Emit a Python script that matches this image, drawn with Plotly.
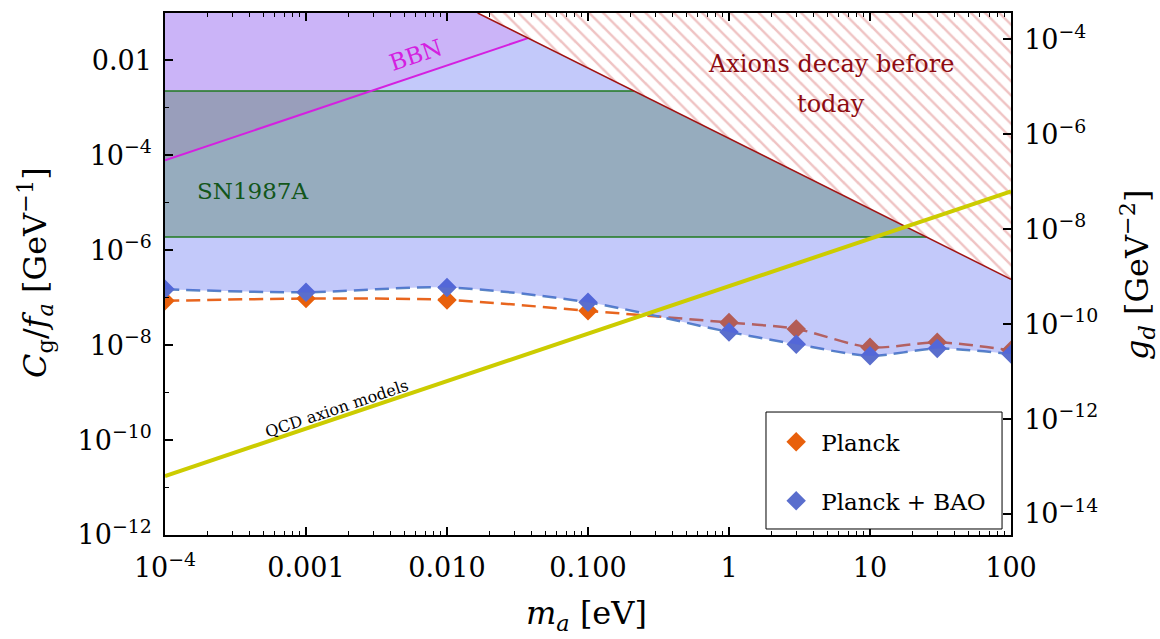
import math
import plotly.graph_objects as go

# ---------------- data ----------------
m_a = [1e-4, 1e-3, 1e-2, 0.1, 1, 3, 10, 30, 100]
planck = [8.6e-8, 9.6e-8, 9.0e-8, 5.3e-8, 3.0e-8, 2.2e-8, 9.0e-9, 1.15e-8, 7.8e-9]
planck_bao = [1.5e-7, 1.3e-7, 1.65e-7, 8.0e-8, 1.9e-8, 1.05e-8, 6.0e-9, 8.5e-9, 6.5e-9]

qcd_x = [1e-4, 100]
qcd_y = [1.75e-11, 1.75e-5]
bbn_x = [1e-4, 1e-1]
bbn_y = [7.85e-5, 7.85e-2]
decay_x = [0.0165, 100]
decay_y = [0.1, 2.45e-7]
sn_lo = 1.9e-6
sn_hi = 2.26e-3

x_lim = [1e-4, 100]
y_lim = [1e-12, 0.1]
y2_lim_log = [-14.442, -3.442]

x_ticks = [1e-4, 1e-3, 1e-2, 0.1, 1, 10, 100]
x_ticktext = ["10<sup>−4</sup>", "0.001", "0.010", "0.100", "1", "10", "100"]
y_ticks = [1e-12, 1e-10, 1e-8, 1e-6, 1e-4, 1e-2]
y_ticktext = ["10<sup>−12</sup>", "10<sup>−10</sup>", "10<sup>−8</sup>", "10<sup>−6</sup>",
              "10<sup>−4</sup>", "0.01"]
y2_ticks = [1e-14, 1e-12, 1e-10, 1e-8, 1e-6, 1e-4]
y2_ticktext = ["10<sup>−14</sup>", "10<sup>−12</sup>", "10<sup>−10</sup>", "10<sup>−8</sup>",
               "10<sup>−6</sup>", "10<sup>−4</sup>"]

# ---------------- helpers (log-log straight lines) ----------------
def line(xs, ys):
    lx0, lx1 = math.log10(xs[0]), math.log10(xs[1])
    ly0, ly1 = math.log10(ys[0]), math.log10(ys[1])
    s = (ly1 - ly0) / (lx1 - lx0)
    return (s, ly0 - s * lx0)

def hline(y):
    return (0.0, math.log10(y))

def at(l, x):
    return 10 ** (l[0] * math.log10(x) + l[1])

def cross(l1, l2):
    return 10 ** ((l2[1] - l1[1]) / (l1[0] - l2[0]))

L_bbn = line(bbn_x, bbn_y)
L_dec = line(decay_x, decay_y)
xmin, xmax = x_lim
ymax = y_lim[1]
x_top = cross(L_dec, hline(ymax))
x_bd = cross(L_bbn, L_dec)
x_snhi = cross(hline(sn_hi), L_dec)
x_snlo = cross(hline(sn_lo), L_dec)
x_bs = cross(L_bbn, hline(sn_hi))

FONT = "DejaVu Serif"
C_OR = "#e8600c"
C_BL = "#5a6ecd"

fig = go.Figure()

# dashed data lines
fig.add_trace(go.Scatter(x=m_a, y=planck, mode="lines", showlegend=False, hoverinfo="skip",
                         line=dict(color="#e8651e", width=2.5, dash="14px,7px", shape="spline", smoothing=0.8)))
fig.add_trace(go.Scatter(x=m_a, y=planck_bao, mode="lines", showlegend=False, hoverinfo="skip",
                         line=dict(color="#5a86c4", width=2.5, dash="14px,7px", shape="spline", smoothing=0.8)))
# markers
fig.add_trace(go.Scatter(x=m_a, y=planck, mode="markers", name="Planck", legendgroup="a",
                         marker=dict(symbol="diamond", size=15, color=C_OR)))
fig.add_trace(go.Scatter(x=m_a, y=planck_bao, mode="markers", name="Planck + BAO", legendgroup="b",
                         marker=dict(symbol="diamond", size=15, color=C_BL)))

# blue excluded region (semi-transparent overlay above the Planck+BAO curve)
fig.add_trace(go.Scatter(x=[xmin, xmax], y=[ymax, ymax], mode="lines", showlegend=False,
                         hoverinfo="skip", line=dict(width=0, color="rgba(0,0,0,0)")))
fig.add_trace(go.Scatter(x=m_a, y=planck_bao, mode="lines", fill="tonexty", showlegend=False,
                         hoverinfo="skip", fillcolor="rgba(70,90,240,0.324)",
                         line=dict(width=0, color="rgba(0,0,0,0)", shape="spline", smoothing=0.8)))

# BBN region
fig.add_trace(go.Scatter(x=[xmin, x_bd, x_top, xmin], y=[at(L_bbn, xmin), at(L_bbn, x_bd), ymax, ymax],
                         mode="lines", fill="toself", fillcolor="#cbb4f8", line=dict(width=0),
                         showlegend=False, hoverinfo="skip"))
# SN1987A band
fig.add_trace(go.Scatter(x=[xmin, x_snlo, x_snhi, xmin], y=[sn_lo, sn_lo, sn_hi, sn_hi],
                         mode="lines", fill="toself", fillcolor="#96acbe", line=dict(width=0),
                         showlegend=False, hoverinfo="skip"))
# overlap BBN & SN
fig.add_trace(go.Scatter(x=[xmin, x_bs, xmin], y=[at(L_bbn, xmin), sn_hi, sn_hi],
                         mode="lines", fill="toself", fillcolor="#999ebb", line=dict(width=0),
                         showlegend=False, hoverinfo="skip"))
# hatched decay region
fig.add_trace(go.Scatter(x=[x_top, xmax, xmax], y=[ymax, at(L_dec, xmax), ymax],
                         mode="lines", fill="toself", fillcolor="white",
                         fillpattern=dict(shape="\\", fgcolor="#e08888", bgcolor="white", size=10, solidity=0.25),
                         line=dict(width=0), showlegend=False, hoverinfo="skip"))

# boundary lines
fig.add_trace(go.Scatter(x=[xmin, x_snhi], y=[sn_hi, sn_hi], mode="lines", showlegend=False,
                         hoverinfo="skip", line=dict(color="#1f7a1f", width=1.5)))
fig.add_trace(go.Scatter(x=[xmin, x_snlo], y=[sn_lo, sn_lo], mode="lines", showlegend=False,
                         hoverinfo="skip", line=dict(color="#1f7a1f", width=1.5)))
fig.add_trace(go.Scatter(x=[xmin, x_bd], y=[at(L_bbn, xmin), at(L_bbn, x_bd)], mode="lines",
                         showlegend=False, hoverinfo="skip", line=dict(color="#d420e0", width=2)))
fig.add_trace(go.Scatter(x=[x_top, xmax], y=[ymax, at(L_dec, xmax)], mode="lines",
                         showlegend=False, hoverinfo="skip", line=dict(color="#a01414", width=1.5)))
# QCD axion line
fig.add_trace(go.Scatter(x=qcd_x, y=qcd_y, mode="lines", showlegend=False, hoverinfo="skip",
                         line=dict(color="#cccc00", width=4)))
# dummy for right axis
fig.add_trace(go.Scatter(x=[1e-2], y=[1e-10], yaxis="y2", mode="markers", showlegend=False,
                         hoverinfo="skip", marker=dict(opacity=0)))

def minor_x():
    v = []
    for e in range(-4, 2):
        for k in range(2, 10):
            v.append(k * 10 ** e)
    return v

tickfont = dict(family=FONT, size=27, color="black")

fig.update_layout(
    width=1160, height=639,
    margin=dict(l=165, r=149, t=13, b=104),
    paper_bgcolor="white", plot_bgcolor="white",
    font=dict(family=FONT, color="black"),
    xaxis=dict(type="log", range=[math.log10(x_lim[0]), math.log10(x_lim[1])],
               tickvals=x_ticks, ticktext=x_ticktext, ticks="inside", ticklen=8, tickwidth=1.5,
               tickcolor="black", showline=True, linecolor="black", linewidth=1.5, mirror="ticks",
               showgrid=False, zeroline=False, tickfont=tickfont, ticklabelstandoff=8,
               minor=dict(tickvals=minor_x(), ticks="inside", ticklen=4, tickwidth=1, tickcolor="black",
                          showgrid=False)),
    yaxis=dict(type="log", range=[math.log10(y_lim[0]), math.log10(y_lim[1])],
               tickvals=y_ticks, ticktext=y_ticktext, ticks="inside", ticklen=8, tickwidth=1.5,
               tickcolor="black", showline=True, linecolor="black", linewidth=1.5,
               showgrid=False, zeroline=False, tickfont=tickfont, ticklabelstandoff=6,
               minor=dict(tickvals=[1e-11, 1e-9, 1e-7, 1e-5, 1e-3], ticks="inside", ticklen=4,
                          tickwidth=1, tickcolor="black", showgrid=False)),
    yaxis2=dict(type="log", overlaying="y", side="right", anchor="x", range=y2_lim_log,
                tickvals=y2_ticks, ticktext=y2_ticktext, ticks="inside", ticklen=8, tickwidth=1.5,
                tickcolor="black", showline=True, linecolor="black", linewidth=1.5,
                showgrid=False, zeroline=False, tickfont=tickfont, ticklabelstandoff=6),
    legend=dict(x=0.7165, y=0.2197, xanchor="left", yanchor="top", bgcolor="rgba(0,0,0,0)",
                borderwidth=0, font=dict(family=FONT, size=23, color="black"), tracegroupgap=26,
                itemwidth=40),
    showlegend=True,
    shapes=[dict(type="rect", xref="paper", yref="paper", x0=0.7104, x1=0.9894, y0=0.0115, y1=0.2356,
                 fillcolor="white", line=dict(color="black", width=1), layer="above")],
)

ann = [
    dict(text="BBN", x=-2.22, y=-1.895, textangle=-18.6, font=dict(family=FONT, size=23, color="#d420e0")),
    dict(text="Axions decay before", x=0.723, y=-2.084, font=dict(family=FONT, size=24, color="#8e0c12")),
    dict(text="today", x=0.723, y=-2.926, font=dict(family=FONT, size=24, color="#8e0c12")),
    dict(text="SN1987A", x=-3.383, y=-4.758, font=dict(family=FONT, size=23, color="#12561a")),
    dict(text="QCD axion models", x=-2.78, y=-9.34, textangle=-18.6, font=dict(family=FONT, size=16, color="black")),
]
for a in ann:
    a.update(xref="x", yref="y", showarrow=False, xanchor="center", yanchor="middle")
    fig.add_annotation(**a)

titles = [
    dict(text="<i>C</i><sub>g</sub>/<i>f</i><sub><i>a</i></sub> [GeV<sup>−1</sup>]", x=-0.1537, y=0.504, textangle=-90),
    dict(text="<i>g</i><sub><i>d</i></sub> [GeV<sup>−2</sup>]", x=1.149, y=0.498, textangle=-90),
    dict(text="<i>m</i><sub><i>a</i></sub> [eV]", x=0.4988, y=-0.1533, textangle=0),
]
for t in titles:
    t.update(xref="paper", yref="paper", showarrow=False, xanchor="center", yanchor="middle",
             font=dict(family=FONT, size=32, color="black"))
    fig.add_annotation(**t)

fig.write_html("out.html")
